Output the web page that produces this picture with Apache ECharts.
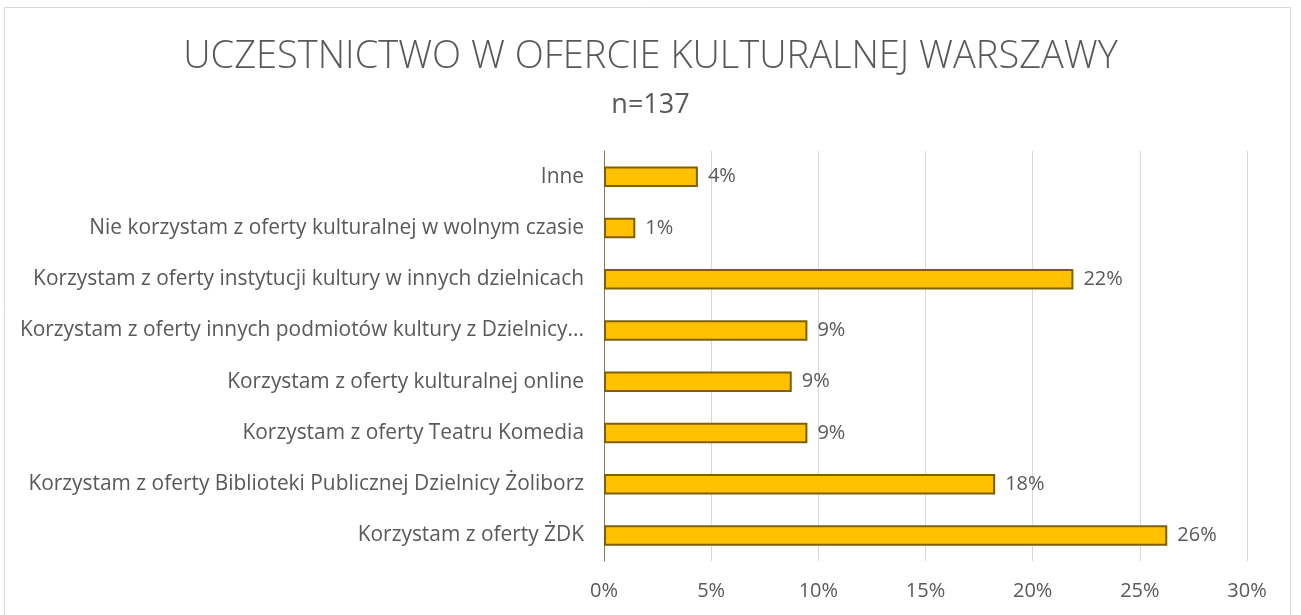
<!DOCTYPE html>
<html><head><meta charset="utf-8">
<script src="https://cdn.jsdelivr.net/npm/echarts@6/dist/echarts.min.js"></script>
<style>html,body{margin:0;padding:0;background:#fff}#c{width:1301px;height:615px}</style>
</head><body><div id="c"></div>
<script>
const titleText = 'UCZESTNICTWO W OFERCIE KULTURALNEJ WARSZAWY';
const subtitleText = 'n=137';
const categories = [
  'Inne',
  'Nie korzystam z oferty kulturalnej w wolnym czasie',
  'Korzystam z oferty instytucji kultury w innych dzielnicach',
  'Korzystam z oferty innych podmiotów kultury z Dzielnicy...',
  'Korzystam z oferty kulturalnej online',
  'Korzystam z oferty Teatru Komedia',
  'Korzystam z oferty Biblioteki Publicznej Dzielnicy Żoliborz',
  'Korzystam z oferty ŻDK'
];
const values = [4.38, 1.46, 21.9, 9.49, 8.76, 9.49, 18.25, 26.28];
const xTicks = [0, 5, 10, 15, 20, 25, 30];

const chart = echarts.init(document.getElementById('c'));
const font = 'Open Sans';
chart.setOption({
  animation: false,
  backgroundColor: '#fff',
  graphic: [{type:'rect', shape:{x:4.5,y:7.5,width:1286,height:620}, style:{fill:'none',stroke:'#d9d9d9',lineWidth:1}}],
  title: [
    {text: titleText, left: 'center', top: 33, textStyle:{fontFamily:font, fontWeight:300, fontSize:38, color:'#595959'}},
    {text: subtitleText, left: 'center', top: 87, textStyle:{fontFamily:font, fontWeight:'normal', fontSize:27, color:'#595959'}}
  ],
  grid: {left: 604, right: 54, top: 151, bottom: 54, containLabel: false},
  xAxis: {
    type: 'value', min: xTicks[0], max: xTicks[xTicks.length-1], interval: 5,
    axisLine:{show:false}, axisTick:{show:false},
    splitLine:{lineStyle:{color:'#d9d9d9', width:1}},
    axisLabel:{formatter: v => v + '%', fontFamily:font, fontSize:20, color:'#595959', margin:20}
  },
  yAxis: {
    type: 'category', data: categories, inverse: true,
    axisLine:{show:true, lineStyle:{color:'#8c7a3e', width:1}}, axisTick:{show:false},
    axisLabel:{fontFamily:font, fontSize:20.9, color:'#595959', margin:20}
  },
  series: [{
    type: 'bar', data: values, barCategoryGap: '60%',
    itemStyle:{color:'#FFC000', borderColor:'#7f6000', borderWidth:2},
    label:{show:true, position:'right', distance:10, formatter: p => Math.round(p.value) + '%', fontFamily:font, fontSize:20, color:'#595959'}
  }]
});
</script></body></html>
